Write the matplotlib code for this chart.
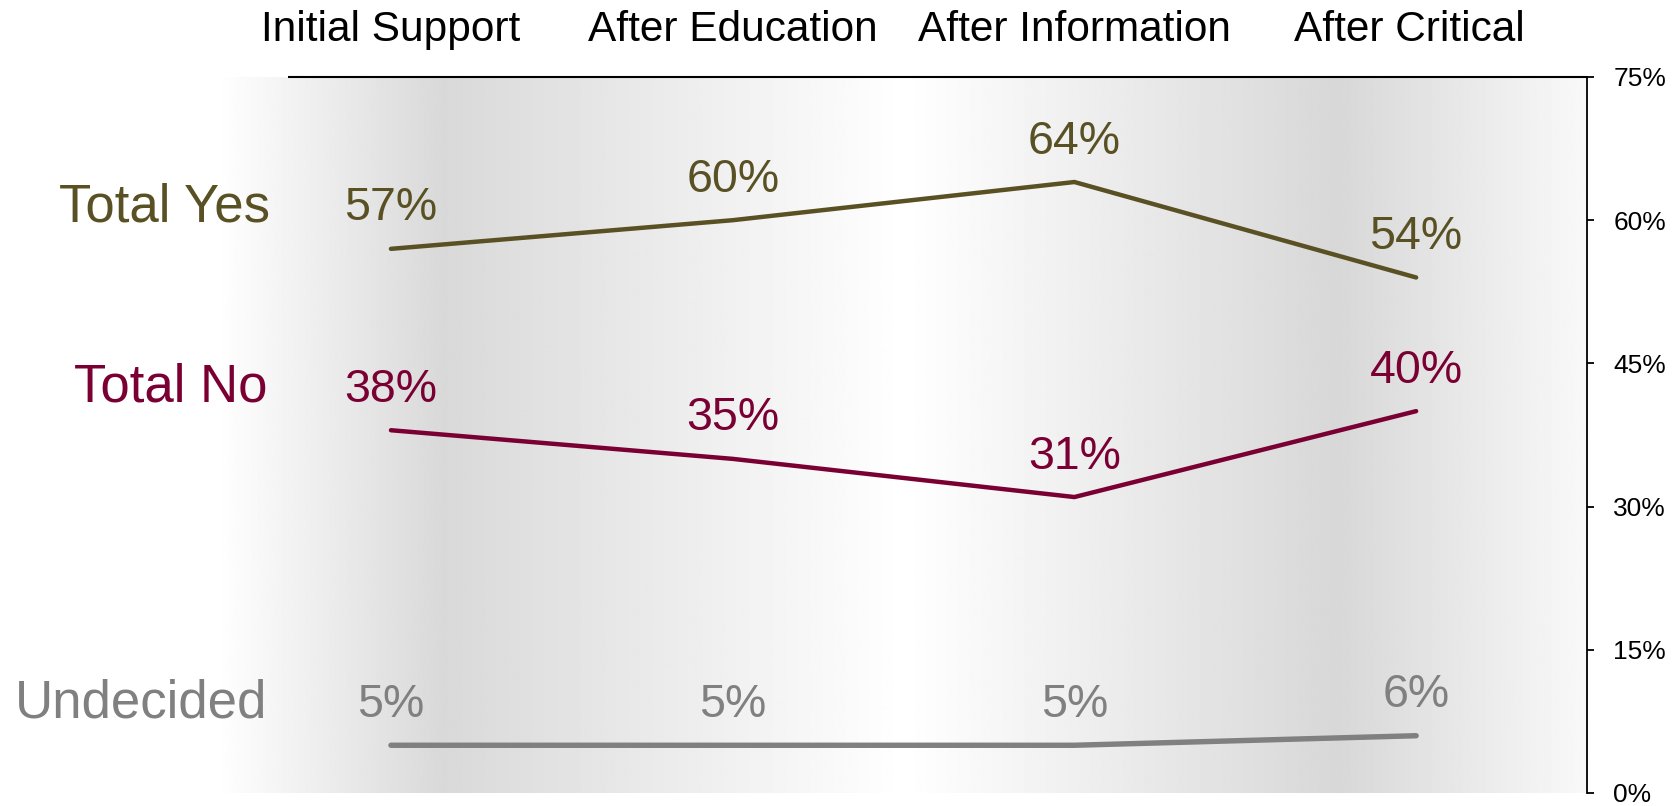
import numpy as np
import matplotlib
matplotlib.use("Agg")
import matplotlib.pyplot as plt
import matplotlib.transforms as mtransforms

plt.rcParams['font.family'] = ['Liberation Sans', 'DejaVu Sans']

# ---- data ----
stages = ["Initial Support", "After Education", "After Information", "After Critical"]
total_yes = [57, 60, 64, 54]
total_no = [38, 35, 31, 40]
undecided = [5, 5, 5, 6]
series_names = ["Total Yes", "Total No", "Undecided"]
yticks = [0, 15, 30, 45, 60, 75]

colors = {"Total Yes": "#595124", "Total No": "#7a0034", "Undecided": "#808080"}
widths = {"Total Yes": 3.2, "Total No": 3.2, "Undecided": 3.9}

W, H = 1681, 806
fig = plt.figure(figsize=(W / 100, H / 100), dpi=100)
fig.patch.set_facecolor("white")

left_px, right_px, top_px, bot_px = 216, 1587, 77, 793
ax = fig.add_axes([left_px / W, 1 - bot_px / H, (right_px - left_px) / W, (bot_px - top_px) / H])

x = np.arange(len(stages))
xmin, xmax = -0.512, 3.5
ax.set_xlim(xmin, xmax)
ax.set_ylim(0, 75)

# background horizontal gradient
stops_x = [xmin, 0.152, 1.503, 2.772, xmax]
stops_v = [1.0, 0.85, 1.0, 0.845, 0.975]
xs = np.linspace(xmin, xmax, 1200)
vals = np.interp(xs, stops_x, stops_v)
grad = np.tile(vals, (2, 1))
ax.imshow(grad, extent=[xmin, xmax, 0, 75], aspect="auto", cmap="gray",
          vmin=0, vmax=1, zorder=0, interpolation="bilinear")

for spine in ["left", "bottom", "top"]:
    ax.spines[spine].set_visible(False)
ax.spines["right"].set_linewidth(1.3)
ax.spines["right"].set_color("black")

# top line
ax.plot([-0.3, xmax], [75, 75], color="black", lw=1.5, clip_on=False, zorder=3,
        solid_capstyle="butt")

ax.set_xticks([])
ax.yaxis.tick_right()
ax.set_yticks(yticks)
ax.set_yticklabels([f"{v}%" for v in yticks])
ax.tick_params(axis="y", direction="out", length=5, width=1.3, pad=14,
               labelsize=19, colors="black")

data = {"Total Yes": total_yes, "Total No": total_no, "Undecided": undecided}
for name in series_names:
    vals_s = data[name]
    ax.plot(x, vals_s, color=colors[name], lw=widths[name], solid_capstyle="round",
            solid_joinstyle="round", zorder=4)
    for xi, v in zip(x, vals_s):
        ax.annotate(f"{v}%", (xi, v), xytext=(0, 20.5), textcoords="offset points",
                    ha="center", va="baseline", fontsize=33.5, color=colors[name],
                    zorder=5)

# category labels on top
trans = mtransforms.blended_transform_factory(ax.transData, fig.transFigure)
cat_shift = [0, 0, 0, -0.02]
for xi, s, dx in zip(x, stages, cat_shift):
    fig.text(xi + dx, 1 - 41 / H, s, transform=trans, ha="center", va="baseline",
             fontsize=30.5, color="black")

# series labels on the left
label_pos = {"Total Yes": (270, 221), "Total No": (267, 402), "Undecided": (267, 718)}
for name in series_names:
    px, py = label_pos[name]
    fig.text(px / W, 1 - py / H, name, ha="right", va="baseline", fontsize=38,
             color=colors[name])

fig.savefig("out.png", dpi=100, facecolor="white")
